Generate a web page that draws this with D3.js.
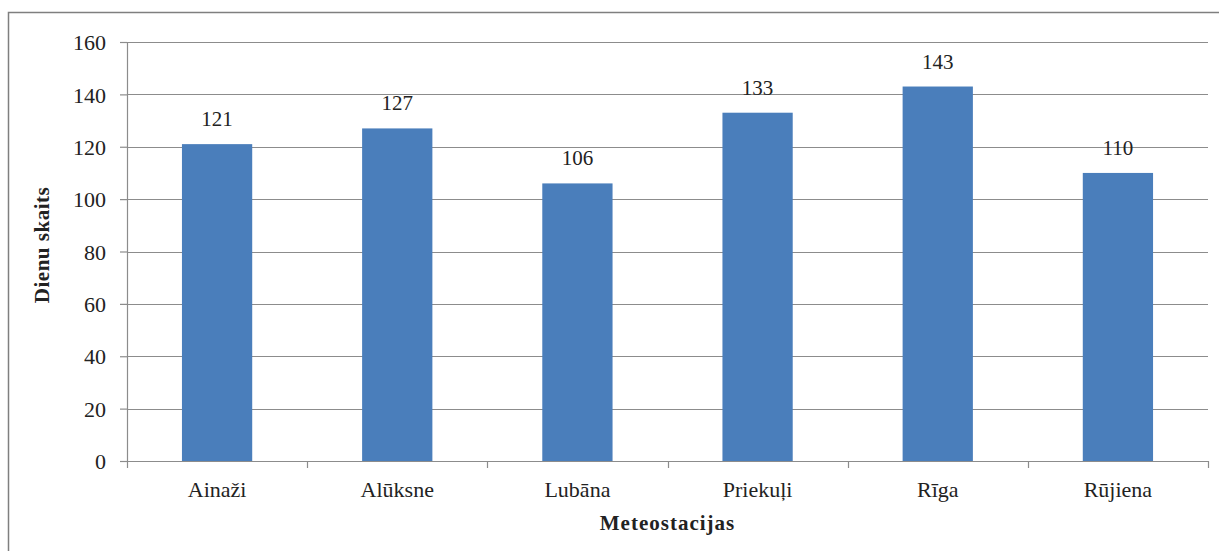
<!DOCTYPE html>
<html>
<head>
<meta charset="utf-8">
<script src="https://cdn.jsdelivr.net/npm/d3@7"></script>
<style>
  body { margin: 0; background: #fff; }
</style>
</head>
<body>
<div id="chart"></div>
<script>
const stations = ["Ainaži", "Alūksne", "Lubāna", "Priekuļi", "Rīga", "Rūjiena"];
const dayCounts = [121, 127, 106, 133, 143, 110];
const yTicks = [0, 20, 40, 60, 80, 100, 120, 140, 160];

const width = 1219, height = 551;
const margin = { top: 42, right: 11, bottom: 90, left: 127 };
const innerWidth = width - margin.left - margin.right;
const innerHeight = height - margin.top - margin.bottom;
const barColor = "#4a7ebb";
const gridColor = "#8c8c8c";
const textColor = "#222";
const serif = "'Liberation Serif', 'Times New Roman', serif";

const svg = d3.select("#chart")
    .append("svg")
    .attr("width", width)
    .attr("height", height)
    .attr("font-family", serif)
    .style("display", "block");

// outer chart frame: only the top and left edges are visible
svg.append("path")
    .attr("d", `M8.5,${height}V12.5H${width}`)
    .attr("fill", "none")
    .attr("stroke", "#7f7f7f")
    .attr("stroke-width", 1.5);

const innerChart = svg.append("g")
    .attr("transform", `translate(${margin.left},${margin.top})`);

const xScale = d3.scaleBand()
    .domain(stations)
    .range([0, innerWidth])
    .paddingInner(0.61)
    .paddingOuter(0.305);

const yScale = d3.scaleLinear()
    .domain([0, 160])
    .range([innerHeight, 0]);

// horizontal gridlines
innerChart.selectAll(".grid")
    .data(yTicks.filter(d => d > 0))
    .join("line")
        .attr("class", "grid")
        .attr("x1", 0).attr("x2", innerWidth)
        .attr("y1", d => Math.round(yScale(d)) + 0.5)
        .attr("y2", d => Math.round(yScale(d)) + 0.5)
        .attr("stroke", gridColor)
        .attr("stroke-width", 1.2);

// bars
innerChart.selectAll(".bar")
    .data(dayCounts)
    .join("rect")
        .attr("class", "bar")
        .attr("x", (d, i) => xScale(stations[i]))
        .attr("y", d => yScale(d))
        .attr("width", xScale.bandwidth())
        .attr("height", d => innerHeight - yScale(d))
        .attr("fill", barColor);

// value labels above bars
innerChart.selectAll(".value-label")
    .data(dayCounts)
    .join("text")
        .attr("class", "value-label")
        .attr("x", (d, i) => xScale(stations[i]) + xScale.bandwidth() / 2)
        .attr("y", d => yScale(d) - 18)
        .attr("text-anchor", "middle")
        .attr("font-size", 21)
        .attr("fill", textColor)
        .text(d => d);

// y-axis
const leftAxis = d3.axisLeft(yScale)
    .tickValues(yTicks)
    .tickSize(7)
    .tickPadding(14);
const yAxis = innerChart.append("g")
    .attr("class", "y-axis")
    .call(leftAxis);
yAxis.attr("font-family", serif).attr("font-size", 22);
yAxis.select(".domain").attr("stroke", gridColor).attr("stroke-width", 1.2).attr("d", `M0.5,0V${innerHeight}`);
yAxis.selectAll(".tick line").attr("stroke", gridColor).attr("stroke-width", 1.2);
yAxis.selectAll(".tick text")
    .attr("fill", textColor)
    .attr("dy", "0.35em");

// x-axis with ticks at band boundaries
const xAxis = innerChart.append("g")
    .attr("class", "x-axis")
    .attr("transform", `translate(0,${innerHeight})`);
xAxis.append("line")
    .attr("x1", 0).attr("x2", innerWidth)
    .attr("y1", 0.5).attr("y2", 0.5)
    .attr("stroke", gridColor).attr("stroke-width", 1.2);
const boundaries = stations.map(s => xScale(s) - xScale.step() * xScale.paddingInner() / 2)
    .concat([innerWidth]);
xAxis.selectAll(".xtick")
    .data(boundaries)
    .join("line")
        .attr("class", "xtick")
        .attr("x1", d => Math.round(d) + 0.5).attr("x2", d => Math.round(d) + 0.5)
        .attr("y1", 0).attr("y2", 7)
        .attr("stroke", gridColor).attr("stroke-width", 1.2);
xAxis.selectAll(".tick-label")
    .data(stations)
    .join("text")
        .attr("class", "tick-label")
        .attr("x", d => xScale(d) + xScale.bandwidth() / 2)
        .attr("y", 36)
        .attr("text-anchor", "middle")
        .attr("font-size", 22)
        .attr("fill", textColor)
        .text(d => d);

// axis titles
svg.append("text")
    .attr("text-anchor", "middle")
    .attr("font-size", 21)
    .attr("font-weight", "bold")
    .attr("letter-spacing", 0.5)
    .attr("fill", textColor)
    .attr("transform", "translate(49,245) rotate(-90)")
    .text("Dienu skaits");

svg.append("text")
    .attr("text-anchor", "middle")
    .attr("font-size", 21)
    .attr("font-weight", "bold")
    .attr("letter-spacing", 1)
    .attr("fill", textColor)
    .attr("x", margin.left + innerWidth / 2)
    .attr("y", 530)
    .text("Meteostacijas");
</script>
</body>
</html>
